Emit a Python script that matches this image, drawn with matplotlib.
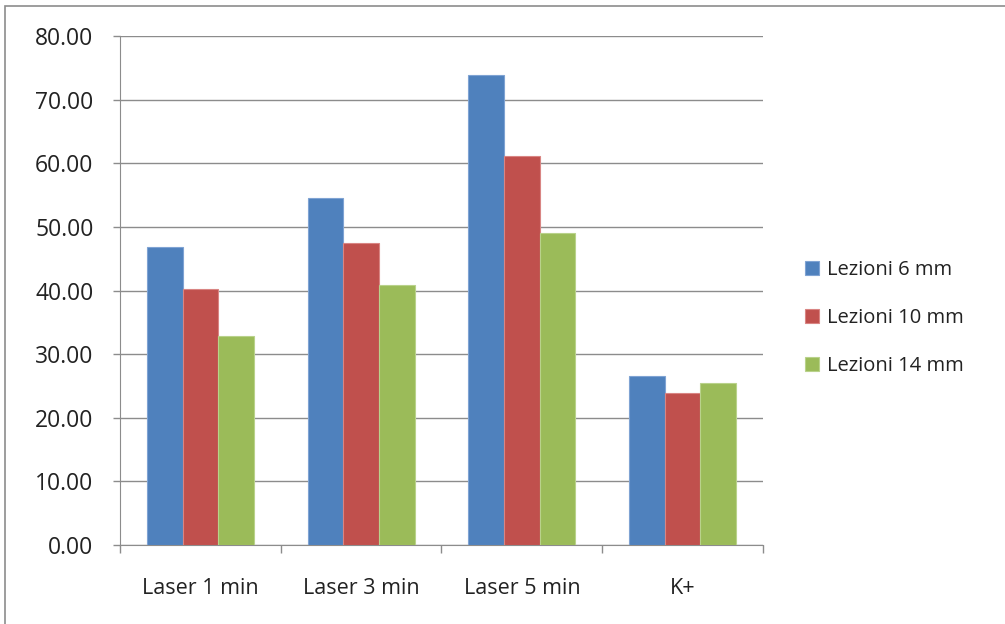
import matplotlib
matplotlib.use('Agg')
import matplotlib.pyplot as plt
import numpy as np
from matplotlib.patches import Rectangle

categories = ['Laser 1 min', 'Laser 3 min', 'Laser 5 min', 'K+']
series_names = ['Lezioni 6 mm', 'Lezioni 10 mm', 'Lezioni 14 mm']
lez6 = [46.9, 54.5, 73.8, 26.6]
lez10 = [40.3, 47.5, 61.1, 23.9]
lez14 = [32.8, 40.9, 49.0, 25.5]
colors = ['#4F81BD', '#C0504D', '#9BBB59']
edges = ['#7FA3D3', '#D98583', '#B9D28B']

plt.rcParams['font.family'] = ['Open Sans', 'DejaVu Sans']

fig = plt.figure(figsize=(10.05, 6.24), dpi=100)
ax = fig.add_axes([0.1194, 0.1266, 0.6398, 0.8157])

# outer frame of the chart area
fig.patches.append(Rectangle((0.005, -0.01), 1.2, 1.0, transform=fig.transFigure,
                             fill=False, edgecolor='#8c8c8c', lw=1.2))

x = np.arange(len(categories))
w = 1 / 4.5
for i, (vals, name) in enumerate(zip([lez6, lez10, lez14], series_names)):
    ax.bar(x + (i - 1) * w, vals, width=w, color=colors[i], edgecolor=edges[i],
           linewidth=0.8, label=name, zorder=3)

ax.set_xlim(-0.5, len(categories) - 0.5)
ax.set_ylim(0, 80)
ax.set_yticks(np.arange(0, 81, 10))
ax.set_yticklabels(['%.2f' % v for v in np.arange(0, 81, 10)], fontsize=16.5,
                   color='#222222')
ax.yaxis.grid(True, color='#8c8c8c', lw=1, zorder=0)

ax.set_xticks(x)
ax.set_xticklabels(categories, fontsize=15.5, color='#222222')
ax.tick_params(axis='x', length=0, pad=24)
ax.set_xticks(np.arange(-0.5, len(categories)), minor=True)
ax.tick_params(axis='x', which='minor', length=6, color='#8c8c8c', width=1)
ax.tick_params(axis='y', length=5, color='#8c8c8c', width=1, pad=14)

for s in ['top', 'right']:
    ax.spines[s].set_visible(False)
for s in ['left', 'bottom']:
    ax.spines[s].set_color('#8c8c8c')

leg = ax.legend(loc='center left', bbox_to_anchor=(1.037, 0.446), frameon=False,
                fontsize=14.5, handlelength=0.7, handleheight=0.7,
                handletextpad=0.4, labelspacing=1.38)
for t in leg.get_texts():
    t.set_color('#222222')

fig.savefig('out.png', dpi=100)
